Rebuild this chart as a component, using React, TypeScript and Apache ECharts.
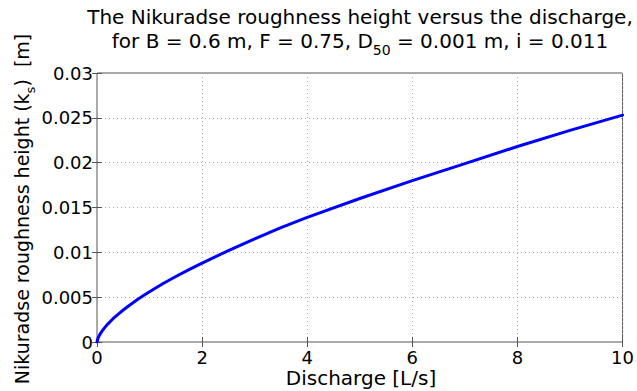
import React, { useEffect, useRef } from "react";
import * as echarts from "echarts";

// Discharge Q [L/s]
const discharge = [0, 0.02, 0.05, 0.1, 0.15, 0.2, 0.3, 0.4, 0.5, 0.6, 0.75, 0.9, 1, 1.25, 1.5, 1.75, 2, 2.5, 3, 3.5, 4, 5, 6, 7, 8, 9, 10];
// Nikuradse roughness height ks [m]
const roughness = [0, 0.00044, 0.0008, 0.00126, 0.00163, 0.00197, 0.00257, 0.00309, 0.00357, 0.00402, 0.00465, 0.00524, 0.0056, 0.00649, 0.0073, 0.00807, 0.0088, 0.0102, 0.0115, 0.01275, 0.0139, 0.016, 0.018, 0.0199, 0.0218, 0.0236, 0.0253];

const titleLine1 = "The Nikuradse roughness height versus the discharge,";
const titleLine2 = [
  { t: "for B = 0.6 m, F = 0.75, D", sub: false },
  { t: "50", sub: true },
  { t: " = 0.001 m, i = 0.011", sub: false },
];
const yName = [
  { t: "Nikuradse roughness height (k", sub: false },
  { t: "s", sub: true },
  { t: ")  [m]", sub: false },
];
const xName = "Discharge [L/s]";

const FAMILY = "DejaVu Sans";

function measure(text: string, size: number) {
  const c = document.createElement("canvas").getContext("2d")!;
  c.font = `${size}px '${FAMILY}'`;
  return c.measureText(text).width;
}

function buildPieces(parts: { t: string; sub: boolean }[], main: number, sub: number, subShift: number) {
  const widths = parts.map((p) => measure(p.t, p.sub ? sub : main));
  const total = widths.reduce((a, b) => a + b, 0);
  let x = -total / 2;
  return parts.map((p, i) => {
    const size = p.sub ? sub : main;
    const el = {
      type: "text",
      x,
      y: p.sub ? subShift : 0,
      style: {
        text: p.t,
        fontSize: size,
        lineHeight: size,
        fontFamily: FAMILY,
        fill: "#000",
        align: "left",
        verticalAlign: "middle",
      },
    };
    x += widths[i];
    return el;
  });
}

export default function App() {
  const ref = useRef<HTMLDivElement>(null);
  useEffect(() => {
    document.body.style.margin = "0";
    const chart = echarts.init(ref.current!, null, { renderer: "svg" });
    const axisLine = { show: false };
    const tick = { show: true, inside: true, length: 5, lineStyle: { color: "#555" } };
    chart.setOption({
      animation: false,
      backgroundColor: "#fff",
      grid: {
        left: 97,
        right: 10,
        top: 73,
        bottom: 49,
        show: true,
        borderColor: "#555",
        borderWidth: 1,
        backgroundColor: "transparent",
      },
      xAxis: [
        {
          type: "value",
          min: 0,
          max: 10,
          interval: 2,
          axisLine,
          axisTick: tick,
          axisLabel: { fontFamily: FAMILY, fontSize: 18, color: "#000", margin: 6 },
          splitLine: { show: true, lineStyle: { type: [1, 3], color: "#aaa", width: 1 } },
        },
        {
          type: "value",
          position: "top",
          min: 0,
          max: 10,
          interval: 2,
          axisLine,
          axisTick: tick,
          axisLabel: { show: false },
          splitLine: { show: false },
        },
      ],
      yAxis: [
        {
          type: "value",
          min: 0,
          max: 0.03,
          interval: 0.005,
          axisLine,
          axisTick: tick,
          axisLabel: { fontFamily: FAMILY, fontSize: 18, color: "#000", margin: 4 },
          splitLine: { show: true, lineStyle: { type: [1, 3], color: "#aaa", width: 1 } },
        },
        {
          type: "value",
          position: "right",
          min: 0,
          max: 0.03,
          interval: 0.005,
          axisLine,
          axisTick: tick,
          axisLabel: { show: false },
          splitLine: { show: false },
        },
      ],
      series: [
        {
          type: "line",
          xAxisIndex: 0,
          yAxisIndex: 0,
          data: discharge.map((q, i) => [q, roughness[i]]),
          showSymbol: false,
          smooth: false,
          lineStyle: { color: "#0000ff", width: 3, join: "round", cap: "round" },
        },
      ],
      graphic: [
        {
          type: "text",
          x: 360,
          y: 17,
          style: {
            text: titleLine1,
            fontSize: 20,
            lineHeight: 20,
            fontFamily: FAMILY,
            fill: "#000",
            align: "center",
            verticalAlign: "middle",
          },
        },
        {
          type: "group",
          x: 360,
          y: 41,
          children: buildPieces(titleLine2, 20, 14, 9),
        },
        {
          type: "group",
          x: 22,
          y: 209,
          rotation: Math.PI / 2,
          children: buildPieces(yName, 19, 13, 8),
        },
        {
          type: "text",
          x: 361,
          y: 378,
          style: {
            text: xName,
            fontSize: 20,
            lineHeight: 20,
            fontFamily: FAMILY,
            fill: "#000",
            align: "center",
            verticalAlign: "middle",
          },
        },
      ],
    });
    return () => chart.dispose();
  }, []);
  return <div ref={ref} style={{ width: 637, height: 391, position: "absolute", left: 0, top: 0 }} />;
}
